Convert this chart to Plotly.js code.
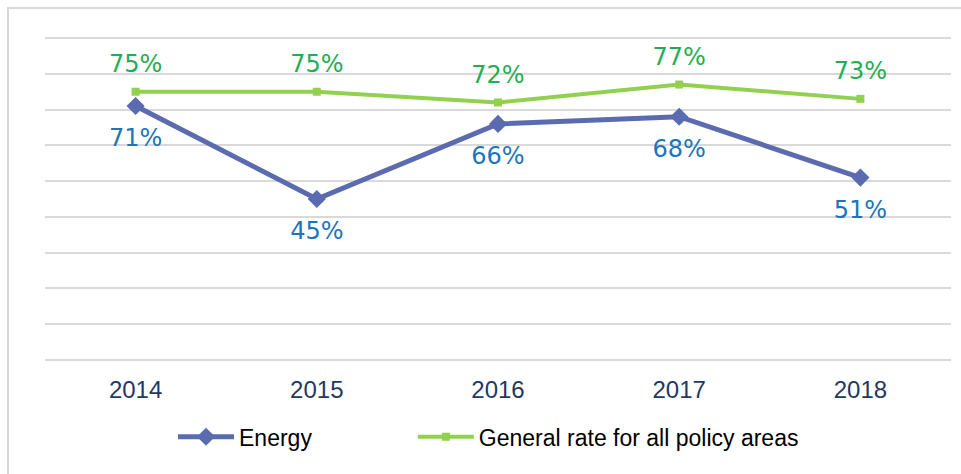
<!DOCTYPE html>
<html><head><meta charset="utf-8">
<script src="https://cdn.plot.ly/plotly-3.0.1.min.js"></script>
<style>html,body{margin:0;padding:0;background:#fff;}#chart{width:961px;height:474px;}</style>
</head><body><div id="chart"></div>
<script>
const years = ["2014", "2015", "2016", "2017", "2018"];
const energy = [71, 45, 66, 68, 51];
const general = [75, 75, 72, 77, 73];
const energyLabels = ["71%", "45%", "66%", "68%", "51%"];
const generalLabels = ["75%", "75%", "72%", "77%", "73%"];

const labelFont = "DejaVu Sans, Verdana, sans-serif";
const traces = [
  {
    x: years, y: energy, name: "Energy", type: "scatter", mode: "lines+markers",
    line: {color: "#5a6bb0", width: 5},
    marker: {symbol: "diamond", size: 14, color: "#5a6bb0"},
    cliponaxis: false, hoverinfo: "skip", legend: "legend"
  },
  {
    x: years, y: general, name: "General rate for all policy areas", type: "scatter", mode: "lines+markers",
    line: {color: "#92d050", width: 4},
    marker: {symbol: "square", size: 8, color: "#92d050"},
    cliponaxis: false, hoverinfo: "skip", legend: "legend2"
  },
  {
    x: years, y: energy, name: "Energy labels", type: "scatter", mode: "markers+text",
    marker: {symbol: "circle", size: 34, color: "rgba(0,0,0,0)"},
    text: energyLabels, textposition: "bottom center",
    textfont: {family: labelFont, size: 24, color: "#1b75bc"},
    cliponaxis: false, hoverinfo: "skip", showlegend: false
  },
  {
    x: years, y: general, name: "General labels", type: "scatter", mode: "markers+text",
    marker: {symbol: "circle", size: 20, color: "rgba(0,0,0,0)"},
    text: generalLabels, textposition: "top center",
    textfont: {family: labelFont, size: 24, color: "#1fae52"},
    cliponaxis: false, hoverinfo: "skip", showlegend: false
  }
];

const legendFont = {family: "Arial, Liberation Sans, sans-serif", size: 23, color: "#000000"};
const layout = {
  width: 961, height: 474,
  margin: {l: 45, r: 10, t: 37, b: 113},
  paper_bgcolor: "#ffffff", plot_bgcolor: "#ffffff",
  showlegend: true,
  legend: {
    orientation: "h", x: 0.1413, xanchor: "left", y: -0.234, yanchor: "middle",
    font: legendFont, itemwidth: 56, bgcolor: "rgba(0,0,0,0)"
  },
  legend2: {
    orientation: "h", x: 0.406, xanchor: "left", y: -0.234, yanchor: "middle",
    font: legendFont, itemwidth: 56, bgcolor: "rgba(0,0,0,0)"
  },
  xaxis: {
    type: "category", range: [-0.5, 4.5], showgrid: false, zeroline: false, showline: false, ticks: "",
    tickfont: {family: "Arial, Liberation Sans, sans-serif", size: 24, color: "#1f3864"},
    ticklabelstandoff: 12, fixedrange: true
  },
  yaxis: {
    range: [-0.3, 90.3], tickvals: [0, 10, 20, 30, 40, 50, 60, 70, 80, 90], showticklabels: false, showgrid: true,
    gridcolor: "#d9d9d9", gridwidth: 2, zeroline: false, showline: false, fixedrange: true
  },
  shapes: [
    {type: "rect", xref: "paper", yref: "paper",
     x0: (8 - 45) / 906, x1: (975 - 45) / 906, y0: -130 / 324, y1: 1 + 29 / 324,
     line: {color: "#d9d9d9", width: 2}, fillcolor: "rgba(0,0,0,0)", layer: "below"}
  ]
};

Plotly.newPlot("chart", traces, layout, {displayModeBar: false, staticPlot: true});
</script></body></html>
